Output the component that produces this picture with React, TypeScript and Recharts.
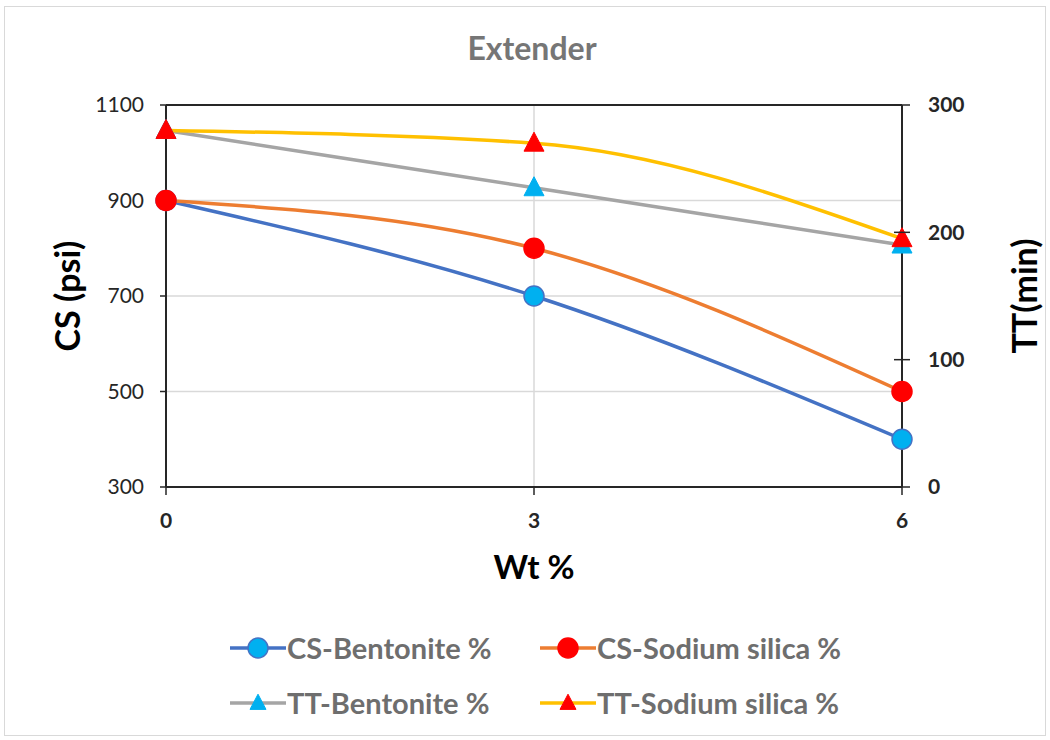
import React from 'react';
import {
  LineChart,
  Line,
  XAxis,
  YAxis,
  CartesianGrid,
  ReferenceLine,
} from 'recharts';

const wtPercent = [0, 3, 6];
const csBentonite = [900, 700, 400];
const csSodiumSilica = [900, 800, 500];
const ttBentonite = [280, 235, 190];
const ttSodiumSilica = [280, 270, 195];

const csTicks = [300, 500, 700, 900, 1100];
const ttTicks = [0, 100, 200, 300];

const data = wtPercent.map((wt, i) => ({
  wt,
  csBentonite: csBentonite[i],
  csSodiumSilica: csSodiumSilica[i],
  ttBentonite: ttBentonite[i],
  ttSodiumSilica: ttSodiumSilica[i],
}));

const AXIS = '#262626';
const TEXT_GRAY = '#767676';

type MarkerKind = 'circle' | 'triangle';

const SERIES = [
  { key: 'csBentonite', name: 'CS-Bentonite %', axis: 'cs', line: '#4472C4', fill: '#00B0F0', stroke: '#4472C4', marker: 'circle' as MarkerKind },
  { key: 'csSodiumSilica', name: 'CS-Sodium silica %', axis: 'cs', line: '#ED7D31', fill: '#FF0000', stroke: '#FF0000', marker: 'circle' as MarkerKind },
  { key: 'ttBentonite', name: 'TT-Bentonite %', axis: 'tt', line: '#A5A5A5', fill: '#00B0F0', stroke: '#00B0F0', marker: 'triangle' as MarkerKind },
  { key: 'ttSodiumSilica', name: 'TT-Sodium silica %', axis: 'tt', line: '#FFC000', fill: '#FF0000', stroke: '#FF0000', marker: 'triangle' as MarkerKind },
];

const Marker = ({ kind, cx, cy, fill, stroke, size = 10 }: any) => {
  if (kind === 'circle') {
    return <circle cx={cx} cy={cy} r={size} fill={fill} stroke={stroke} strokeWidth={1.5} />;
  }
  const h = size * 1.9;
  const pts = `${cx},${cy - h * 0.58} ${cx - size},${cy + h * 0.42} ${cx + size},${cy + h * 0.42}`;
  return <polygon points={pts} fill={fill} stroke={stroke} strokeWidth={1} />;
};

const RIGHT_TICK_SIZE = 8;
const RIGHT_TICK_MARGIN = 18;

const RightTick = (props: any) => {
  const { x, y, payload } = props;
  const ax = x - RIGHT_TICK_SIZE - RIGHT_TICK_MARGIN;
  return (
    <g>
      <line x1={ax - 8} x2={ax + 8} y1={y} y2={y} stroke={AXIS} strokeWidth={1.5} />
      <text x={x} y={y} dy="0.35em" textAnchor="start" fontSize={21} fontWeight={700} fill={AXIS}>
        {payload.value}
      </text>
    </g>
  );
};

const LegendIcon = ({ s }: any) => (
  <svg width={56} height={26} style={{ display: 'block' }}>
    <line x1={0} x2={56} y1={13} y2={13} stroke={s.line} strokeWidth={3.5} />
    <Marker kind={s.marker} cx={28} cy={13} fill={s.fill} stroke={s.stroke} size={s.marker === 'circle' ? 10 : 8} />
  </svg>
);

export default function App() {
  return (
    <div
      style={{
        position: 'absolute',
        left: 0,
        top: 0,
        width: 1050,
        height: 740,
        background: '#fff',
        fontFamily: 'Lato, "Open Sans", sans-serif',
      }}
    >
      <div
        style={{
          position: 'absolute',
          left: 4,
          top: 6,
          width: 1040,
          height: 728,
          border: '1px solid #D9D9D9',
        }}
      />
      <div
        style={{
          position: 'absolute',
          left: 0,
          width: 1064,
          top: 28,
          textAlign: 'center',
          fontSize: 32,
          fontWeight: 700,
          color: TEXT_GRAY,
        }}
      >
        Extender
      </div>
      <div style={{ position: 'absolute', left: 0, top: 0 }}>
        <LineChart width={1050} height={600} data={data} margin={{ top: 105, right: 0, bottom: 23, left: 0 }}>
          <CartesianGrid yAxisId="cs" stroke="#D9D9D9" strokeWidth={1.5} />
          <XAxis
            dataKey="wt"
            type="number"
            domain={[0, 6]}
            ticks={wtPercent}
            height={90}
            tickSize={8}
            tickMargin={18}
            axisLine={{ stroke: AXIS, strokeWidth: 2 }}
            tickLine={{ stroke: AXIS, strokeWidth: 1.5 }}
            tick={{ fontSize: 21, fontWeight: 700, fill: AXIS }}
            label={{
              content: (p: any) => {
                const vb = p.viewBox;
                return (
                  <text x={vb.x + vb.width / 2} y={vb.y + 79} textAnchor="middle" dominantBaseline="central" fontSize={33} fontWeight={700} fill="#000">
                    Wt %
                  </text>
                );
              },
            }}
          />
          <YAxis
            yAxisId="cs"
            domain={[300, 1100]}
            ticks={csTicks}
            width={166}
            tickSize={6}
            tickMargin={16}
            axisLine={{ stroke: AXIS, strokeWidth: 2 }}
            tickLine={{ stroke: AXIS, strokeWidth: 1.5 }}
            tick={{ fontSize: 21, fill: AXIS }}
            label={{
              content: (p: any) => {
                const vb = p.viewBox;
                const cx = vb.x + 66;
                const cy = vb.y + vb.height / 2;
                return (
                  <text x={cx} y={cy} transform={`rotate(-90 ${cx} ${cy})`} textAnchor="middle" dominantBaseline="central" fontSize={34} fontWeight={700} fill="#000">
                    CS (psi)
                  </text>
                );
              },
            }}
          />
          <YAxis
            yAxisId="tt"
            orientation="right"
            domain={[0, 300]}
            ticks={ttTicks}
            width={148}
            tickSize={RIGHT_TICK_SIZE}
            tickMargin={RIGHT_TICK_MARGIN}
            axisLine={{ stroke: AXIS, strokeWidth: 2 }}
            tickLine={false}
            tick={<RightTick />}
            label={{
              content: (p: any) => {
                const vb = p.viewBox;
                const cx = vb.x + 121;
                const cy = vb.y + vb.height / 2;
                return (
                  <text x={cx} y={cy} transform={`rotate(-90 ${cx} ${cy})`} textAnchor="middle" dominantBaseline="central" fontSize={34} fontWeight={700} fill="#000">
                    TT(min)
                  </text>
                );
              },
            }}
          />
          <ReferenceLine yAxisId="cs" y={1100} stroke={AXIS} strokeWidth={2} />
          {SERIES.map((s) => (
            <Line
              key={s.key}
              yAxisId={s.axis}
              dataKey={s.key}
              name={s.name}
              type="monotone"
              stroke={s.line}
              strokeWidth={3.5}
              isAnimationActive={false}
              activeDot={false}
              dot={(p: any) => (
                <Marker key={`${s.key}-${p.index}`} kind={s.marker} cx={p.cx} cy={p.cy} fill={s.fill} stroke={s.stroke} />
              )}
            />
          ))}
        </LineChart>
      </div>
      <div
        style={{
          position: 'absolute',
          left: 230,
          top: 629,
          display: 'grid',
          gridTemplateColumns: '310px 320px',
          rowGap: 17,
          fontSize: 29,
          fontWeight: 700,
          color: '#6E6E6E',
          lineHeight: '38px',
        }}
      >
        {SERIES.map((s) => (
          <div key={s.key} style={{ display: 'flex', alignItems: 'center' }}>
            <LegendIcon s={s} />
            <span style={{ marginLeft: 1 }}>{s.name}</span>
          </div>
        ))}
      </div>
    </div>
  );
}
